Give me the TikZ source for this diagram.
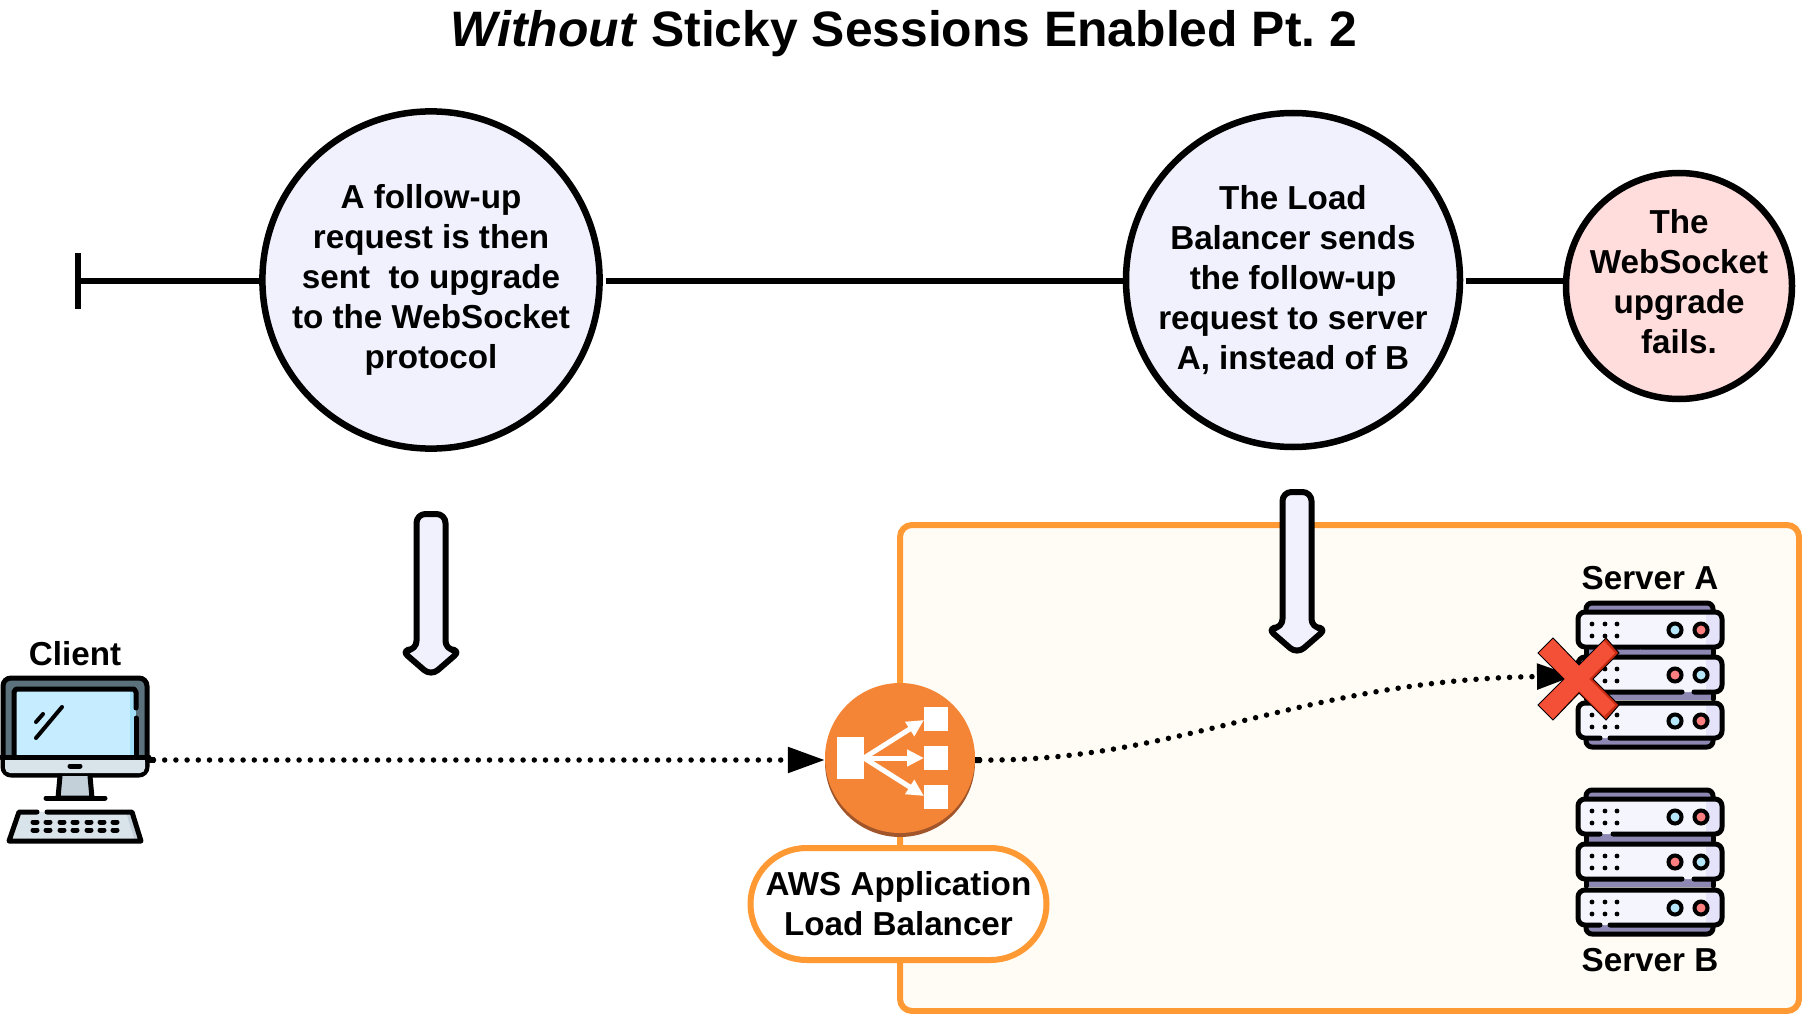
\documentclass[tikz,border=0pt]{standalone}
\usepackage{fontspec}
\setmainfont{Liberation Sans}
\usetikzlibrary{arrows.meta,shapes.misc,calc}
\definecolor{lilac}{HTML}{F1F1FE}
\definecolor{pinkish}{HTML}{FFDDDC}
\definecolor{boxorange}{HTML}{FF9933}
\definecolor{boxfill}{HTML}{FFFCF5}
\definecolor{albdark}{HTML}{A1552A}
\definecolor{alborange}{HTML}{F58536}
\definecolor{capcol}{HTML}{8C87B3}
\definecolor{rackshade}{HTML}{E4E3F9}
\definecolor{ledblue}{HTML}{B4E6FA}
\definecolor{ledred}{HTML}{FD7F7F}
\definecolor{xred}{HTML}{F44F37}
\definecolor{xdark}{HTML}{C92A12}
\definecolor{screenblue}{HTML}{C6EDFF}
\definecolor{screenshade}{HTML}{9FE0F8}
\definecolor{framegrey}{HTML}{5B727D}
\definecolor{chin}{HTML}{D8E3EA}
\definecolor{standcol}{HTML}{C3D0DA}
\tikzset{
  x=1pt,y=-1pt,
  stage/.style={circle,draw=black,line width=6.5pt,fill=lilac,minimum size=334pt,inner sep=0pt,align=center,font=\fontsize{33.2}{40}\selectfont\bfseries},
  failstage/.style={stage,fill=pinkish,minimum size=226pt},
  timeline/.style={line width=6pt,draw=black},
  label/.style={font=\fontsize{33.2}{40}\selectfont\bfseries,inner sep=0pt,align=center},
  flow/.style={line width=5.5pt,line cap=round,dash pattern=on 0pt off 11.2pt,{Square[length=6pt,width=6pt,line cap=butt]}-{Triangle[length=37pt,width=25pt]}},
  blockarrow/.style={draw=black,line width=6pt,fill=lilac,line join=round},
  ink/.style={draw=black,line width=5pt,line cap=round,line join=round},
  iconwhite/.style={fill=white,draw=none},
  iconarrow/.style={draw=white,line width=5pt,-{Triangle[length=17pt,width=16pt]}},
}
\newcommand{\downarrowshape}[2]{%
  \begin{scope}[shift={(#1,#2)}]
    \path[blockarrow,rounded corners=9pt] (-14.5,14) -- (14.5,14) -- (14.5,150) -- (30,150) -- (0,176) -- (-30,150) -- (-14.5,150) -- cycle;
  \end{scope}}
% rack: y offset, left led, right led, gap start, gap end
\newcommand{\rackunit}[5]{%
  \begin{scope}[shift={(0,#1)}]
    \fill[white!30!lilac,rounded corners=7pt] (1578,4) rectangle (1722,39);
    \begin{scope}
      \clip[rounded corners=7pt] (1578,4) rectangle (1722,39);
      \fill[rackshade] (1706,0) rectangle (1724,41);
    \end{scope}
    \draw[ink,rounded corners=7pt] (#4,39) -- (1578,39) -- (1578,4) -- (1722,4) -- (1722,39) -- (#5,39);
    \foreach \dx in {1592,1605,1617} \foreach \dy in {16,28}
      \fill[black] (\dx,\dy) circle (2.4pt);
    \draw[black,line width=4pt,fill=#2] (1675,22) circle (6.5pt);
    \draw[black,line width=4pt,fill=#3] (1701,22) circle (6.5pt);
  \end{scope}}
\newcommand{\servericon}[3]{%
  \begin{scope}[shift={(0,#1)}]
    \fill[capcol,rounded corners=5pt] (1586,603) rectangle (1713,640);
    \draw[ink,rounded corners=6pt] (1586,610) -- (1586,603) -- (1713,603) -- (1713,610);
    \fill[capcol,rounded corners=5pt] (1586,720) rectangle (1713,747);
    \draw[ink,rounded corners=6pt] (1586,738) -- (1586,747) -- (1713,747) -- (1713,738);
    \fill[capcol] (1586,645) rectangle (1713,700);
    \draw[ink] (1586,650) -- (1586,654) (1713,650) -- (1713,654) (1586,695) -- (1586,699) (1713,695) -- (1713,699);
    \rackunit{608}{ledblue}{ledred}{#2}{#3}
    \rackunit{653}{ledred}{ledblue}{1682}{1694}
    \rackunit{699}{ledblue}{ledred}{1600}{1610}
  \end{scope}}
\begin{document}
\begin{tikzpicture}
\useasboundingbox (0,0) rectangle (1802,1014);
\fill[white] (0,0) rectangle (1802,1014);

% title
\node[inner sep=0pt,font=\fontsize{49.8}{56}\selectfont\bfseries] (title) at (904,34) {\frenchspacing\textit{Without} Sticky Sessions Enabled Pt. 2};

% region
\path[draw=boxorange,fill=boxfill,line width=6pt,rounded corners=12pt] (900,525) rectangle (1799,1011);

% timeline
\coordinate (tstart) at (78,281);
\node[stage] (s1) at (431,280) {A follow-up\\request is then\\sent~ to upgrade\\to the WebSocket\\protocol};
\node[stage] (s2) at (1293,280) {The Load\\Balancer sends\\the follow-up\\request to server\\A, instead of B};
\node[failstage] (s3) at (1679,286) {};
\node[label] (s3text) at (1679,282) {The\\WebSocket\\upgrade\\fails.};
\draw[timeline] (tstart) -- (s1.west|-tstart);
\draw[timeline] ([xshift=3pt]s1.east|-tstart) -- (s2.west|-tstart);
\draw[timeline] ([xshift=3pt]s2.east|-tstart) -- (s3.west|-tstart);
\draw[line width=5.5pt] (78,253) -- (78,309);

% block arrows
\downarrowshape{431}{500}
\downarrowshape{1297}{478}

% client icon
\node[label] (clientlabel) at (75,654) {Client};
\draw[ink,fill=framegrey,rounded corners=8pt] (3,678) rectangle (147,775);
\fill[chin,rounded corners=5pt] (5,757) rectangle (145,773);
\fill[chin] (5,757) rectangle (145,765);
\fill[screenblue] (14,689) rectangle (136,756);
\fill[screenshade] (130,689) rectangle (136,756);
\draw[ink] (14,756) -- (14,692) -- (16,689) -- (134,689) -- (136,692) -- (136,708);
\draw[ink] (136,718) -- (136,756);
\draw[ink] (1,757) -- (149,757);
\draw[ink] (70,766) -- (80,766);
\draw[ink,fill=standcol] (60,776) -- (58,798) -- (92,798) -- (90,776);
\draw[ink] (46,798) -- (105,798);
\path[fill=chin] (19,812) -- (132,812) -- (141,841) -- (9,841) -- cycle;
\path[fill=standcol] (126,812) -- (132,812) -- (141,841) -- (135,841) -- cycle;
\draw[ink] (37,812) -- (19,812) -- (9,841) -- (141,841) -- (132,812) -- (47,812);
\foreach \kx in {35,48,62,75,89,102,115} \foreach \ky in {822,830}
  \draw[black,line width=5pt,line cap=round] (\kx-2,\ky) -- (\kx+2,\ky);
\draw[ink,line width=4pt] (36,738) -- (62,707);
\draw[ink,line width=4pt] (36,722) -- (43,714);
\coordinate (clientport) at (149,760);

% load balancer
\fill[albdark] (900,762) circle (75pt);
\node[circle,fill=alborange,minimum size=150pt,inner sep=0pt] (alb) at (900,758) {};
\fill[iconwhite] (837,737) rectangle (864,779);
\fill[iconwhite] (924,707) rectangle (948,731);
\fill[iconwhite] (924,746) rectangle (948,770);
\fill[iconwhite] (924,785) rectangle (948,809);
\draw[iconarrow] (864,758) -- (924,720);
\draw[iconarrow] (864,758) -- (924,758);
\draw[iconarrow] (864,758) -- (924,796);

% pill
\node[draw=boxorange,fill=white,line width=6pt,rounded rectangle,minimum width=296pt,minimum height=112pt,inner sep=0pt,align=center,font=\fontsize{33.2}{40}\selectfont\bfseries] (pill) at (898.5,904) {AWS Application\\Load Balancer};

% servers
\node[label] (serverA) at (1650,578) {Server A};
\node[label] (serverB) at (1650,960) {Server B};
\servericon{0}{1640}{1641}
\servericon{187}{1600}{1613}
\coordinate (serverport) at (1574,676);

% connectors
\draw[flow] (clientport) -- ([yshift=-2pt]alb.west);
\draw[flow] ([yshift=-2pt]alb.east) .. controls (1180,762) and (1300,680) .. (serverport);

% red X
\path[fill=xdark,draw=black,line width=1pt,line join=miter]
 (1553,638) -- (1579,665) -- (1606,638) -- (1619,653) -- (1593,679) -- (1619,705) -- (1606,720) -- (1579,693) -- (1553,720) -- (1538,705) -- (1564,679) -- (1538,653) -- cycle;
\path[fill=xred]
 (1553,639) -- (1579,666) -- (1604,641) -- (1615,653) -- (1589,679) -- (1615,705) -- (1604,716) -- (1579,691) -- (1553,719) -- (1539,705) -- (1565,679) -- (1539,653) -- cycle;
\end{tikzpicture}
\end{document}
